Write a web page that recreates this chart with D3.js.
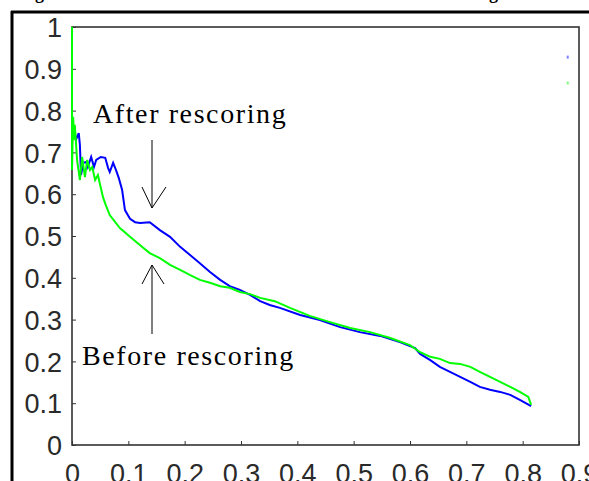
<!DOCTYPE html>
<html>
<head>
<meta charset="utf-8">
<script src="https://cdn.jsdelivr.net/npm/d3@7"></script>
<style>
    body { margin: 0; background: #fff; }
    svg { display: block; }
    .tick-label { font-family: "Liberation Sans", Arial, sans-serif; font-size: 27px; fill: #2a2a2a; }
    .note { font-family: "Liberation Serif", "Times New Roman", serif; font-size: 28px; fill: #000; letter-spacing: 1.6px; }
</style>
</head>
<body>
<script>
// recall values (x) and precision values (y)
var afterRecall = [0, 0, 0.004, 0.007, 0.012, 0.014, 0.016, 0.02, 0.025, 0.028, 0.034, 0.039, 0.043, 0.051, 0.059,
    0.064, 0.067, 0.073, 0.078, 0.083, 0.089, 0.094, 0.103, 0.112, 0.121, 0.138, 0.156, 0.174, 0.192, 0.209,
    0.227, 0.245, 0.263, 0.28, 0.298, 0.316, 0.334, 0.351, 0.369, 0.405, 0.44, 0.476, 0.511, 0.547, 0.582,
    0.609, 0.618, 0.636, 0.653, 0.671, 0.689, 0.707, 0.724, 0.742, 0.76, 0.778, 0.795, 0.815];
var afterPrecision = [1, 0.746, 0.758, 0.73, 0.746, 0.718, 0.646, 0.675, 0.677, 0.665, 0.689, 0.665, 0.682, 0.689, 0.687,
    0.663, 0.653, 0.675, 0.658, 0.639, 0.61, 0.562, 0.541, 0.533, 0.531, 0.533, 0.514, 0.498, 0.474, 0.455,
    0.435, 0.414, 0.395, 0.38, 0.371, 0.359, 0.344, 0.335, 0.328, 0.311, 0.299, 0.282, 0.27, 0.261, 0.246,
    0.232, 0.218, 0.203, 0.187, 0.175, 0.163, 0.151, 0.139, 0.132, 0.127, 0.12, 0.108, 0.093];

var beforeRecall = [0, 0, 0.002, 0.004, 0.005, 0.009, 0.014, 0.018, 0.023, 0.027, 0.032, 0.036, 0.041, 0.046, 0.05,
    0.055, 0.06, 0.067, 0.085, 0.103, 0.121, 0.138, 0.156, 0.174, 0.192, 0.209, 0.227, 0.245, 0.263, 0.28,
    0.298, 0.316, 0.334, 0.36, 0.387, 0.422, 0.458, 0.494, 0.529, 0.565, 0.6, 0.618, 0.636, 0.653, 0.671,
    0.689, 0.707, 0.724, 0.742, 0.76, 0.778, 0.795, 0.81, 0.815];
var beforePrecision = [1, 0.658, 0.785, 0.73, 0.766, 0.682, 0.634, 0.689, 0.641, 0.682, 0.658, 0.665, 0.634, 0.646, 0.622,
    0.593, 0.574, 0.55, 0.519, 0.498, 0.478, 0.459, 0.447, 0.431, 0.419, 0.407, 0.395, 0.388, 0.38, 0.376,
    0.366, 0.361, 0.352, 0.344, 0.328, 0.309, 0.294, 0.28, 0.27, 0.256, 0.239, 0.222, 0.211, 0.206, 0.196,
    0.194, 0.187, 0.175, 0.163, 0.151, 0.139, 0.127, 0.115, 0.096];

// the two lone points near the top right corner
var strayRecall = [0.88, 0.88];
var strayPrecision = [0.928, 0.866];

var xTicks = [0, 0.1, 0.2, 0.3, 0.4, 0.5, 0.6, 0.7, 0.8, 0.9];
var yTicks = [0, 0.1, 0.2, 0.3, 0.4, 0.5, 0.6, 0.7, 0.8, 0.9, 1];

window.onload = function(){
    var w = 589, h = 481;

    var svg = d3.select("body")
        .append("svg")
        .attr("width", w)
        .attr("height", h);

    // scales
    var x = d3.scaleLinear()
        .domain([0, 0.9])
        .range([72, 579]);

    var y = d3.scaleLinear()
        .domain([0, 1])
        .range([445, 27]);

    // cropped caption above the figure (only descenders show)
    svg.append("text")
        .attr("x", 44)
        .attr("y", -1)
        .attr("text-anchor", "end")
        .style("font", "bold 18px 'Liberation Serif', serif")
        .text("Fig");
    svg.append("text")
        .attr("x", 498)
        .attr("y", -1)
        .attr("text-anchor", "end")
        .style("font", "bold 18px 'Liberation Serif', serif")
        .text("before and after rescoring");

    // black frame round the figure
    svg.append("line")
        .attr("x1", 11).attr("x2", w)
        .attr("y1", 12).attr("y2", 12)
        .style("stroke", "#000")
        .style("stroke-width", 3);
    svg.append("line")
        .attr("x1", 12).attr("x2", 12)
        .attr("y1", 11).attr("y2", h)
        .style("stroke", "#000")
        .style("stroke-width", 3);

    // plot box
    svg.append("rect")
        .attr("x", x(0))
        .attr("y", y(1))
        .attr("width", x(0.9) - x(0))
        .attr("height", y(0) - y(1))
        .style("fill", "none")
        .style("stroke", "#333")
        .style("stroke-width", 1.6);

    // y axis: inward ticks, labels on the left
    var yAxis = d3.axisLeft(y)
        .tickValues(yTicks)
        .tickSize(-4)
        .tickPadding(10)
        .tickFormat(d3.format("~g"));

    var yG = svg.append("g")
        .attr("transform", "translate(" + x(0) + ",0)")
        .call(yAxis);
    yG.select(".domain").remove();
    yG.selectAll(".tick line").style("stroke", "#333");
    yG.selectAll(".tick text")
        .attr("class", "tick-label")
        .attr("x", -10)
        .attr("dy", "0.36em");

    // x axis: labels only, cut off by the bottom edge
    var xAxis = d3.axisBottom(x)
        .tickValues(xTicks)
        .tickSize(-4)
        .tickPadding(0)
        .tickFormat(d3.format("~g"));

    var xG = svg.append("g")
        .attr("transform", "translate(0," + y(0) + ")")
        .call(xAxis);
    xG.select(".domain").remove();
    xG.selectAll(".tick line").style("stroke", "#333");
    xG.selectAll(".tick text")
        .attr("class", "tick-label")
        .attr("y", 38)
        .attr("dy", 0);

    // curves
    var line = d3.line()
        .x(function(d){ return x(d[0]); })
        .y(function(d){ return y(d[1]); });

    var after = d3.zip(afterRecall, afterPrecision);
    var before = d3.zip(beforeRecall, beforePrecision);

    svg.append("path")
        .datum(after)
        .attr("d", line)
        .style("fill", "none")
        .style("stroke", "#0000ff")
        .style("stroke-width", 2);

    svg.append("path")
        .datum(before)
        .attr("d", line)
        .style("fill", "none")
        .style("stroke", "#00ff00")
        .style("stroke-width", 2);

    // stray points
    var strayColors = ["#8080ff", "#80ff80"];
    svg.selectAll(".stray")
        .data(d3.zip(strayRecall, strayPrecision))
        .enter()
        .append("rect")
        .attr("class", "stray")
        .attr("x", function(d){ return x(d[0]) - 1; })
        .attr("y", function(d){ return y(d[1]) - 1.5; })
        .attr("width", 2)
        .attr("height", 3)
        .style("fill", function(d, i){ return strayColors[i]; });

    // annotations
    svg.append("text")
        .attr("class", "note")
        .attr("x", 93)
        .attr("y", 123)
        .text("After rescoring");

    svg.append("text")
        .attr("class", "note")
        .attr("x", 82)
        .attr("y", 365)
        .text("Before rescoring");

    var arrowPath = d3.path();
    // down arrow (after)
    arrowPath.moveTo(152, 140); arrowPath.lineTo(152, 208);
    arrowPath.moveTo(142, 187); arrowPath.lineTo(152, 208); arrowPath.lineTo(166, 187);
    // up arrow (before)
    arrowPath.moveTo(152, 334); arrowPath.lineTo(152, 265);
    arrowPath.moveTo(142, 284); arrowPath.lineTo(152, 265); arrowPath.lineTo(164, 284);

    svg.append("path")
        .attr("d", arrowPath.toString())
        .style("fill", "none")
        .style("stroke", "#000")
        .style("stroke-width", 1);
};
</script>
</body>
</html>
